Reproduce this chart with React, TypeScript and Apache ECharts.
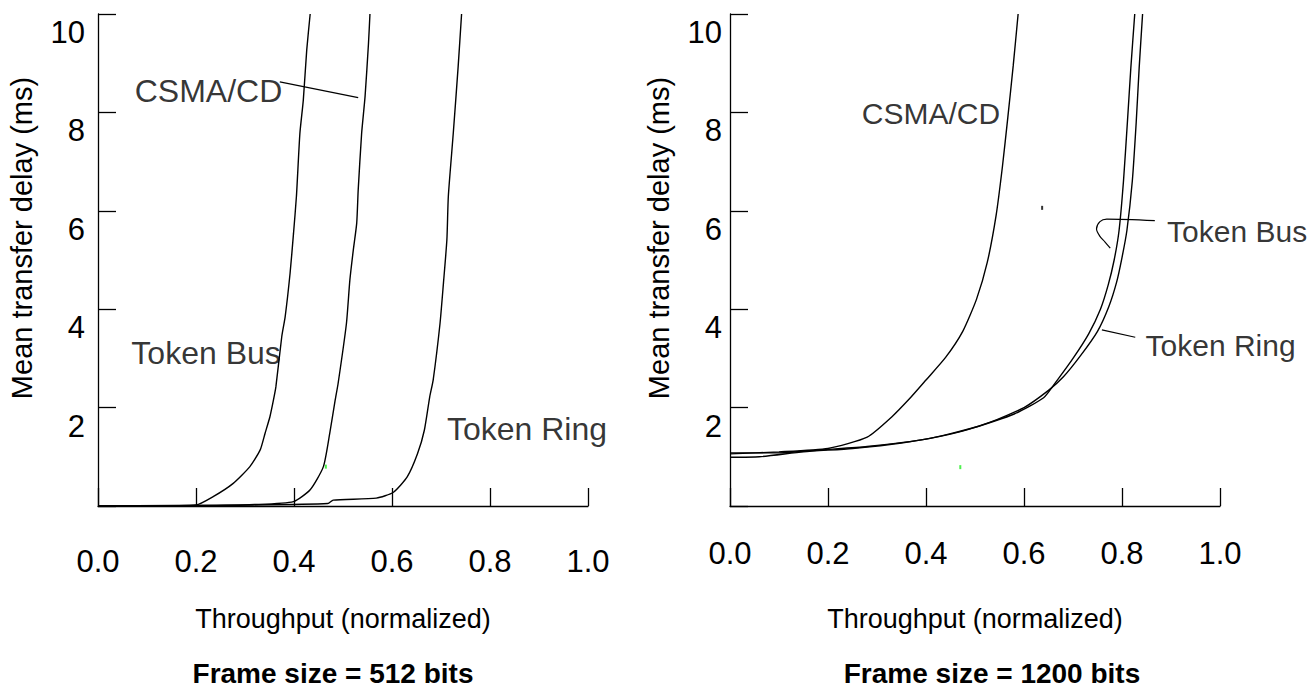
import React, { useEffect, useRef } from "react";
import * as echarts from "echarts";

const FONT = '"Liberation Sans", Arial, Helvetica, sans-serif';

// ---- Frame size = 512 bits (throughput, mean delay ms) ----
const TOKEN_BUS_512 = [
  [0, 0], [0.1, 0], [0.2, 0.02], [0.235, 0.19], [0.276, 0.46], [0.31, 0.8],
  [0.331, 1.14], [0.341, 1.48], [0.351, 1.82], [0.358, 2.15], [0.363, 2.42],
  [0.375, 3.44], [0.382, 3.85], [0.392, 4.73], [0.399, 5.54], [0.405, 6.3],
  [0.412, 7.57], [0.419, 8.25], [0.426, 9.27], [0.433, 10],
];
const CSMA_512 = [
  [0, 0], [0.2, 0], [0.32, 0.03], [0.399, 0.09], [0.433, 0.33], [0.46, 0.8],
  [0.473, 1.48], [0.484, 2.15], [0.49, 2.49], [0.507, 3.71], [0.514, 4.59],
  [0.521, 5.2], [0.528, 5.75], [0.531, 6.42], [0.538, 7.57], [0.545, 8.32],
  [0.552, 9.4], [0.555, 10],
];
const TOKEN_RING_512 = [
  [0, 0], [0.3, 0.02], [0.469, 0.05], [0.48, 0.12], [0.568, 0.16], [0.603, 0.28],
  [0.631, 0.59], [0.652, 1.06], [0.666, 1.54], [0.677, 2.22], [0.684, 2.56],
  [0.698, 3.71], [0.705, 4.53], [0.712, 5.41], [0.715, 6.3], [0.725, 7.57],
  [0.735, 8.93], [0.742, 10],
];

// ---- Frame size = 1200 bits ----
const CSMA_1200 = [
  [0, 1.06], [0.1, 1.1], [0.2, 1.17], [0.28, 1.4], [0.33, 1.81], [0.37, 2.22],
  [0.4, 2.56], [0.44, 3.02], [0.475, 3.55], [0.503, 4.2], [0.525, 4.95],
  [0.543, 5.9], [0.556, 6.9], [0.567, 7.9], [0.578, 8.95], [0.588, 10],
];
const TOKEN_BUS_1200 = [
  [0, 1.08], [0.1, 1.08], [0.2, 1.15], [0.28, 1.21], [0.4, 1.36], [0.5, 1.6],
  [0.58, 1.87], [0.64, 2.2], [0.668, 2.56], [0.7, 3.0], [0.732, 3.5],
  [0.756, 4.0], [0.772, 4.5], [0.784, 5.0], [0.794, 5.6], [0.803, 6.6],
  [0.811, 7.8], [0.818, 8.9], [0.826, 10],
];
const TOKEN_RING_1200 = [
  [0, 0.99], [0.06, 1.0], [0.15, 1.1], [0.25, 1.17], [0.35, 1.28], [0.45, 1.46],
  [0.53, 1.7], [0.6, 2.0], [0.65, 2.35], [0.68, 2.62], [0.715, 3.05],
  [0.75, 3.55], [0.773, 4.05], [0.789, 4.55], [0.8, 5.05], [0.81, 5.6],
  [0.821, 6.6], [0.829, 7.8], [0.835, 8.9], [0.842, 10],
];

// ---- annotations (data coordinates) ----
const LEADER_CSMA_512 = [[0.371, 8.62], [0.531, 8.3]];
const LEADER_TB_1200 = [
  [0.867, 5.8], [0.769, 5.83], [0.755, 5.78], [0.748, 5.63], [0.755, 5.48],
  [0.765, 5.37], [0.776, 5.24],
];
const LEADER_TR_1200 = [[0.759, 3.58], [0.827, 3.43]];

const LABELS_512 = [
  { name: "CSMA/CD", at: [0.376, 8.43], side: "left" },
  { name: "Token Bus", at: [0.373, 3.11], side: "left" },
  { name: "Token Ring", at: [0.712, 1.57], side: "right" },
];
const LABELS_1200 = [
  { name: "CSMA/CD", at: [0.269, 7.97], side: "right" },
  { name: "Token Bus", at: [0.892, 5.57], side: "right" },
  { name: "Token Ring", at: [0.848, 3.27], side: "right" },
];

// small specks present on the original scan
const SPECKS_GREEN_512 = [[0.465, 0.8]];
const SPECKS_GREEN_1200 = [[0.47, 0.79]];
const SPECKS_BLACK_1200 = [[0.637, 6.06]];

const X_TITLE = "Throughput (normalized)";
const Y_TITLE = "Mean transfer delay (ms)";
const PANEL_TITLES = ["Frame size = 512 bits", "Frame size = 1200 bits"];

function makeX(gi: number, labelMargin: number) {
  return {
    gridIndex: gi,
    type: "value",
    min: 0,
    max: 1,
    interval: 0.2,
    axisLine: { show: true, onZero: false, lineStyle: { color: "#000", width: 1.3 } },
    axisTick: { show: true, inside: true, length: 18, lineStyle: { color: "#000", width: 1.3 } },
    axisLabel: {
      formatter: (v: number) => v.toFixed(1),
      fontSize: 31,
      color: "#000",
      fontFamily: FONT,
      margin: labelMargin,
    },
    splitLine: { show: false },
    name: X_TITLE,
    nameLocation: "middle",
    nameGap: 99,
    nameTextStyle: { fontSize: 27, color: "#000", fontFamily: FONT },
  };
}

function makeY(gi: number, labelMargin: number) {
  return {
    gridIndex: gi,
    type: "value",
    min: 0,
    max: 10,
    interval: 2,
    axisLine: { show: true, onZero: false, lineStyle: { color: "#000", width: 1.3 } },
    axisTick: { show: true, inside: true, length: 18, lineStyle: { color: "#000", width: 1.3 } },
    axisLabel: {
      formatter: (v: number) => (v === 0 ? "" : String(v)),
      fontSize: 31,
      color: "#000",
      fontFamily: FONT,
      margin: labelMargin,
      verticalAlign: "top",
      padding: [3, 0, 0, 0],
    },
    splitLine: { show: false },
  };
}

const curveStyle = { color: "#000", width: 1.4 };

function curve(name: string, data: number[][], gi: number) {
  return {
    type: "line",
    name,
    xAxisIndex: gi,
    yAxisIndex: gi,
    data,
    showSymbol: false,
    symbol: "none",
    smooth: 0.2,
    lineStyle: curveStyle,
    silent: true,
    z: 3,
  };
}

function leader(data: number[][], gi: number) {
  return {
    type: "line",
    xAxisIndex: gi,
    yAxisIndex: gi,
    data,
    showSymbol: false,
    symbol: "none",
    smooth: 0.3,
    lineStyle: { color: "#000", width: 1.2 },
    silent: true,
    clip: false,
  };
}

function labels(
  items: { name: string; at: number[]; side: string }[],
  gi: number,
  fontSize: number
) {
  return {
    type: "scatter",
    xAxisIndex: gi,
    yAxisIndex: gi,
    symbolSize: 0,
    silent: true,
    clip: false,
    data: items.map((it) => ({
      value: it.at,
      label: {
        show: true,
        formatter: it.name,
        position: it.side,
        distance: 0,
        fontSize,
        color: "#000",
        fontFamily: FONT,
      },
    })),
  };
}

function specks(data: number[][], gi: number, color: string) {
  return {
    type: "scatter",
    xAxisIndex: gi,
    yAxisIndex: gi,
    data,
    symbol: "rect",
    symbolSize: [2, 4],
    itemStyle: { color },
    silent: true,
  };
}

export default function App() {
  const ref = useRef<HTMLDivElement>(null);
  useEffect(() => {
    if (!ref.current) return;
    const chart = echarts.init(ref.current, null, { renderer: "svg" });
    const yTitle = (x: number) => ({
      type: "text",
      x,
      y: 238,
      rotation: Math.PI / 2,
      style: {
        text: Y_TITLE,
        fontSize: 29,
        fontFamily: FONT,
        fill: "#000",
        align: "center",
        verticalAlign: "middle",
      },
    });
    const panelTitle = (x: number, text: string) => ({
      type: "text",
      x,
      y: 673,
      style: {
        text,
        fontSize: 28,
        fontWeight: "bold",
        fontFamily: FONT,
        fill: "#000",
        align: "center",
        verticalAlign: "middle",
      },
    });
    const option = {
      animation: false,
      backgroundColor: "#fff",
      grid: [
        { left: 98, top: 14, width: 490, height: 492, containLabel: false },
        { left: 730, top: 14, width: 490, height: 492, containLabel: false },
      ],
      xAxis: [makeX(0, 40), makeX(1, 32)],
      yAxis: [makeY(0, 13), makeY(1, 8)],
      graphic: [
        yTitle(22),
        yTitle(659),
        panelTitle(333, PANEL_TITLES[0]),
        panelTitle(992, PANEL_TITLES[1]),
      ],
      series: [
        curve("Token Bus", TOKEN_BUS_512, 0),
        curve("CSMA/CD", CSMA_512, 0),
        curve("Token Ring", TOKEN_RING_512, 0),
        leader(LEADER_CSMA_512, 0),
        labels(LABELS_512, 0, 32),
        specks(SPECKS_GREEN_512, 0, "#22ee22"),
        curve("CSMA/CD", CSMA_1200, 1),
        curve("Token Bus", TOKEN_BUS_1200, 1),
        curve("Token Ring", TOKEN_RING_1200, 1),
        leader(LEADER_TB_1200, 1),
        leader(LEADER_TR_1200, 1),
        labels(LABELS_1200, 1, 30),
        specks(SPECKS_GREEN_1200, 1, "#22ee22"),
        specks(SPECKS_BLACK_1200, 1, "#000"),
      ],
    };
    chart.setOption(option as any);
    return () => chart.dispose();
  }, []);
  return (
    <div
      ref={ref}
      style={{ position: "fixed", left: 0, top: 0, width: 1314, height: 698, background: "#fff" }}
    />
  );
}
